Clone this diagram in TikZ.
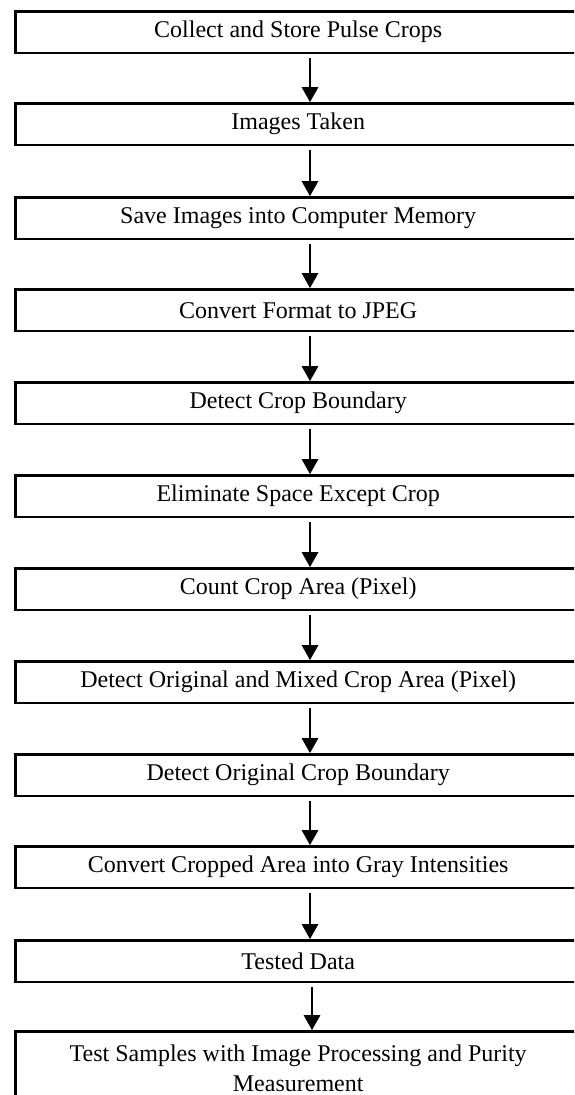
\documentclass[tikz,border=0pt]{standalone}
\usepackage{fontspec}
\setmainfont{Liberation Serif}
\usetikzlibrary{arrows.meta}
\begin{document}
\begin{tikzpicture}[x=1pt,y=-1pt,
  stepbox/.style={draw, line width=2.4pt, minimum width=565.6pt, minimum height=41.6pt,
    anchor=north west, inner sep=0pt, align=center, font=\fontsize{24}{30}\selectfont},
  flow/.style={line width=2.6pt, -{Triangle[length=15pt,width=16pt]}}]
\useasboundingbox (0,0) rectangle (574,1095);
\clip (0,0) rectangle (574,1095);
\node[stepbox] (b1)  at (14.2,10.2)   {Collect and Store Pulse Crops};
\node[stepbox] (b2)  at (14.2,102.2)  {Images Taken};
\node[stepbox] (b3)  at (14.2,196.2)  {Save Images into Computer Memory};
\node[stepbox] (b4)  at (14.2,288.2)  {Convert Format to JPEG};
\node[stepbox] (b5)  at (14.2,381.2)  {Detect Crop Boundary};
\node[stepbox] (b6)  at (14.2,474.2)  {Eliminate Space Except Crop};
\node[stepbox] (b7)  at (14.2,567.2)  {Count Crop Area (Pixel)};
\node[stepbox] (b8)  at (14.2,660.2)  {Detect Original and Mixed Crop Area (Pixel)};
\node[stepbox] (b9)  at (14.2,753.2)  {Detect Original Crop Boundary};
\node[stepbox] (b10) at (14.2,845.2)  {Convert Cropped Area into Gray Intensities};
\node[stepbox] (b11) at (14.2,939.2)  {Tested Data};
\node[stepbox, minimum height=74pt] (b12) at (14.2,1030.2)
  {Test Samples with Image Processing and Purity\\Measurement};
\coordinate (ax) at (310,0);
\coordinate (ay) at (312,0);
\foreach \a/\b in {b1/b2,b2/b3,b3/b4,b4/b5,b5/b6,b6/b7,b7/b8,b8/b9,b9/b10,b10/b11}
  \draw[flow] ([yshift=-4pt]\a.south -| ax) -- (\b.north -| ax);
\draw[flow] ([yshift=-4pt]b11.south -| ay) -- (b12.north -| ay);
\end{tikzpicture}
\end{document}
